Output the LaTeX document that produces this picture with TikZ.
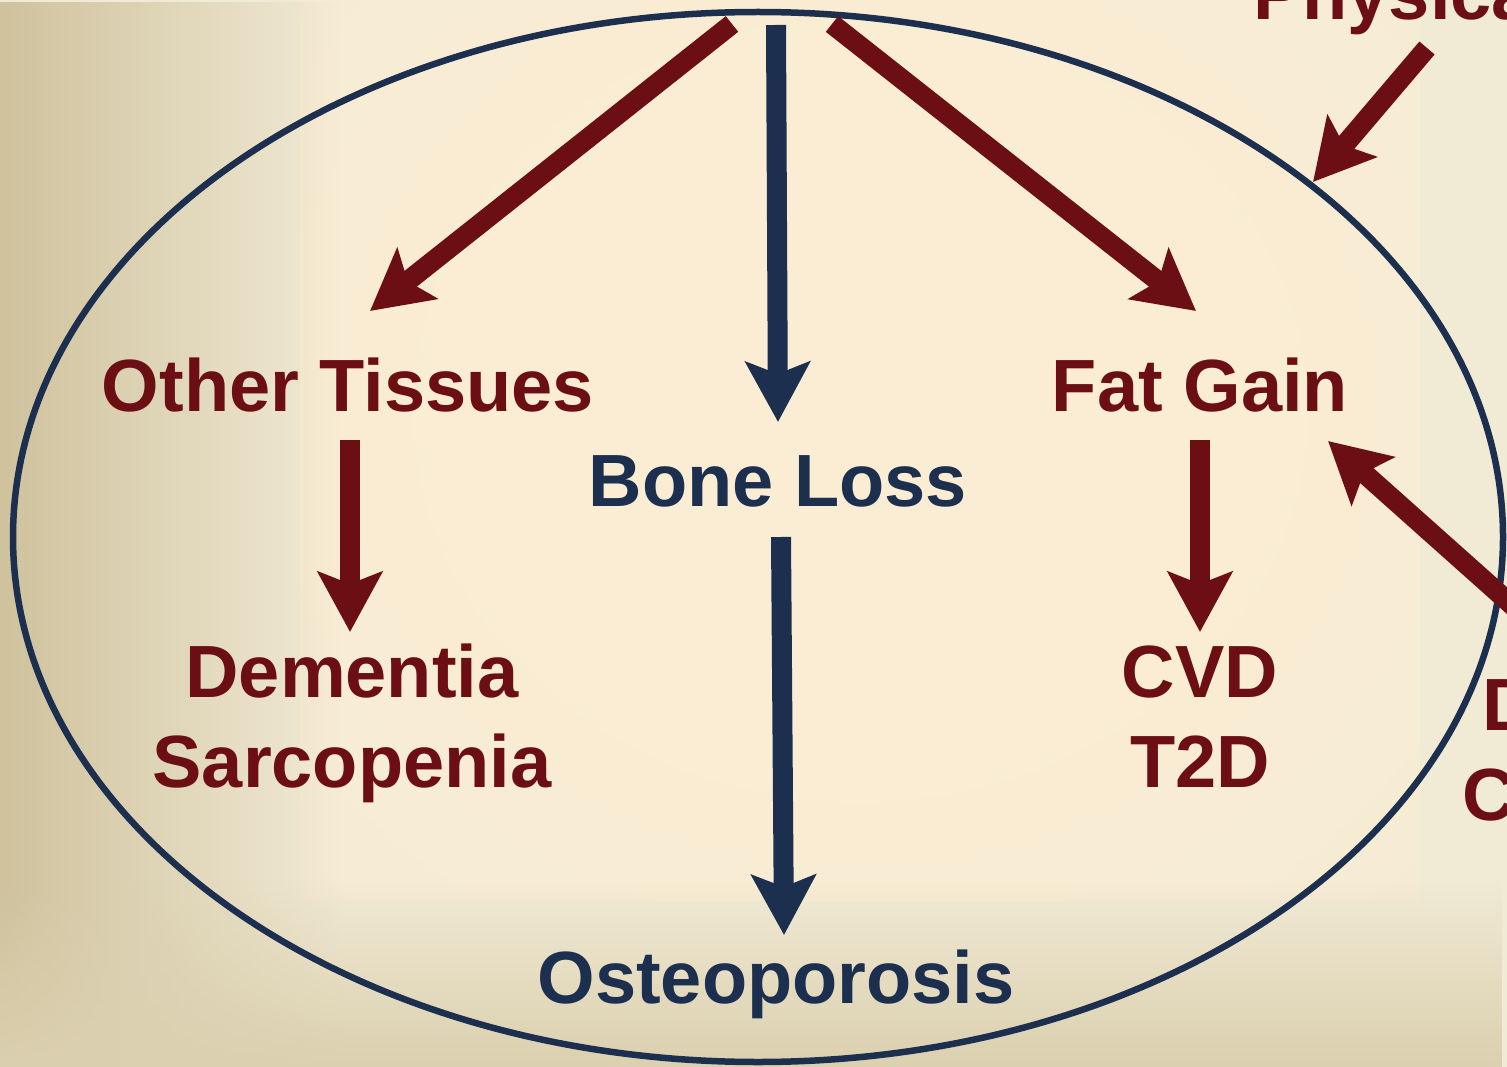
\documentclass[tikz,border=0pt]{standalone}
\usepackage{fontspec}
\setmainfont{Liberation Sans}
\usetikzlibrary{arrows.meta,fadings}
\definecolor{dred}{HTML}{6C0F15}
\definecolor{navy}{HTML}{1C2F4F}
\definecolor{bgin}{RGB}{251,237,211}
\definecolor{bgmid}{RGB}{241,234,213}
\definecolor{bgout}{RGB}{207,194,157}
\definecolor{bgbot}{RGB}{219,208,175}
\pgfdeclareradialshading{bgglow}{\pgfpoint{0bp}{0bp}}{color(0bp)=(bgin); color(14bp)=(bgin); color(50bp)=(bgmid)}
\tikzfading[name=fadeR, left color=transparent!0, right color=transparent!100]
\tikzfading[name=fadeUp, bottom color=transparent!0, top color=transparent!100]
\tikzset{
  lbl/.style={font=\fontsize{74}{90}\selectfont\bfseries, inner sep=0pt, anchor=base, align=center},
  redtxt/.style={lbl, text=dred},
  bluetxt/.style={lbl, text=navy},
  fatarrow/.style={line width=20pt, -{Stealth[length=60pt,width=64pt,inset=12pt]}},
  redarrow/.style={fatarrow, draw=dred, fill=dred},
  bluearrow/.style={fatarrow, draw=navy, fill=navy},
}
\begin{document}
\begin{tikzpicture}[x=1pt,y=-1pt]
\useasboundingbox (0,0) rectangle (1507,1067);
\clip (0,0) rectangle (1507,1067);
% background
\fill[bgmid] (0,0) rectangle (1507,1067);
\shade[shading=bgglow] (300,-80) rectangle (1420,900);
\fill[bgout, path fading=fadeR] (0,0) rectangle (340,1067);
\fill[bgbot, path fading=fadeUp] (0,880) rectangle (1507,1067);
% ellipse
\draw[navy, line width=6.5pt] (758,537) ellipse [x radius=745, y radius=525];
% labels
\node[redtxt] (ot) at (348,411) {Other Tissues};
\node[bluetxt] (bl) at (778,506) {Bone Loss};
\node[redtxt] (fg) at (1200,411) {Fat Gain};
\node[redtxt] (dem) at (352,787) {Dementia\\Sarcopenia};
\node[redtxt] (cvd) at (1200,787) {CVD\\T2D};
\node[bluetxt] (ost) at (776,1003) {Osteoporosis};
\node[redtxt, anchor=base west] (phys) at (1253,20) {Physical};
\node[redtxt, anchor=base west] (dd) at (1482,730) {D};
\node[redtxt, anchor=base west] (cc) at (1462,820) {C};
% arrow coordinates
\coordinate (s1) at (732,24);   \coordinate (t1) at (370,311);
\coordinate (s2) at (776,25);   \coordinate (t2) at (778,422);
\coordinate (s3) at (832,24);   \coordinate (t3) at (1196,311);
\coordinate (s4) at (350,440);  \coordinate (t4) at (350,632);
\coordinate (s5) at (781,537);  \coordinate (t5) at (784,935);
\coordinate (s6) at (1200,440); \coordinate (t6) at (1200,632);
\coordinate (s7) at (1427,48);  \coordinate (t7) at (1313,182);
\coordinate (s8) at (1522,614); \coordinate (t8) at (1328,441);
% arrows
\draw[redarrow] (s1) -- (t1);
\draw[bluearrow] (s2) -- (t2);
\draw[redarrow] (s3) -- (t3);
\draw[redarrow] (s4) -- (t4);
\draw[bluearrow] (s5) -- (t5);
\draw[redarrow] (s6) -- (t6);
\draw[redarrow] (s7) -- (t7);
\draw[redarrow] (s8) -- (t8);
\end{tikzpicture}
\end{document}
